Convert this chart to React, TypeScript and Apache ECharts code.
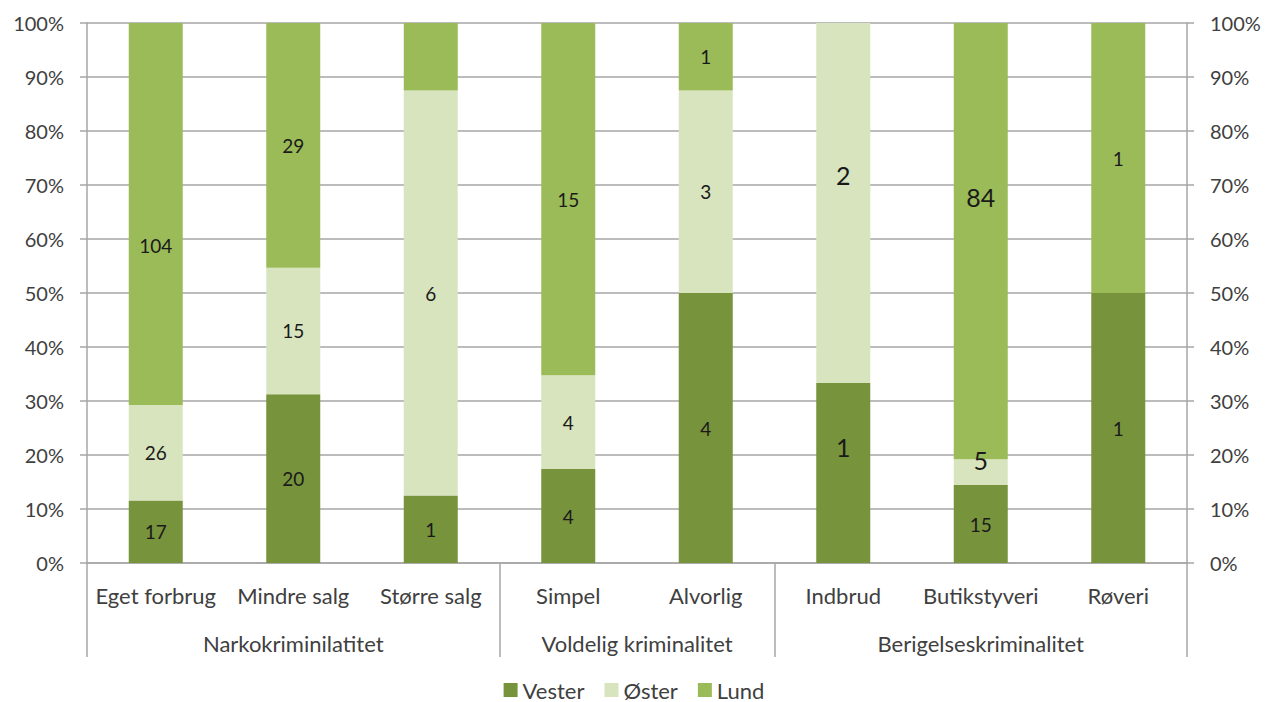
import React, { useEffect, useRef } from "react";
import * as echarts from "echarts";

const categories = [
  "Eget forbrug",
  "Mindre salg",
  "Større salg",
  "Simpel",
  "Alvorlig",
  "Indbrud",
  "Butikstyveri",
  "Røveri",
];
const groups = ["Narkokriminilatitet", "Voldelig kriminalitet", "Berigelseskriminalitet"];
const groupStarts = [0, 3, 5];
const seriesNames = ["Vester", "Øster", "Lund"];
const vester = [17, 20, 1, 4, 4, 1, 15, 1];
const oester = [26, 15, 6, 4, 3, 2, 5, 0];
const lund = [104, 29, 1, 15, 1, 0, 84, 1];

const colors = ["#77933C", "#D7E4BD", "#9BBB59"];
// hidden labels (series, index) and manual label tweaks
const hiddenLabels = [[2, 2]];
const bigLabels = [[0, 5], [1, 5], [1, 6], [2, 6]];
const labelShift: Record<string, number> = { "2-0": 31, "2-6": -44, "1-5": -28, "0-5": -26, "1-6": -12 };

const FONT = "Lato, 'Open Sans', sans-serif";
const TXT = "#404040";
const GRID = "#A6A6A6";

export default function App() {
  const ref = useRef<HTMLDivElement>(null);
  useEffect(() => {
    document.body.style.margin = "0";
    const chart = echarts.init(ref.current!, undefined, { renderer: "svg" });
    const raw = [vester, oester, lund];
    const totals = categories.map((_, i) => vester[i] + oester[i] + lund[i]);
    const series = raw.map((arr, s) => ({
      name: seriesNames[s],
      type: "bar",
      stack: "total",
      barWidth: 54,
      itemStyle: { color: colors[s] },
      label: {
        show: true,
        position: "inside",
        color: "#1a1a1a",
        fontFamily: FONT,
        fontSize: 19,
        formatter: (p: any) => String(raw[p.seriesIndex][p.dataIndex]),
      },
      data: arr.map((v, i) => {
        const hidden = v === 0 || hiddenLabels.some(([a, b]) => a === s && b === i);
        const big = bigLabels.some(([a, b]) => a === s && b === i);
        const shift = labelShift[`${s}-${i}`] || 0;
        return {
          value: (v / totals[i]) * 100,
          label: { show: !hidden, fontSize: big ? 25 : 19, offset: [0, shift] },
        };
      }),
    }));
    const groupCenters: Record<string, string> = {};
    groups.forEach((g, k) => {
      const start = groupStarts[k];
      const end = k + 1 < groupStarts.length ? groupStarts[k + 1] : categories.length;
      groupCenters[String((start + end) / 2)] = g;
    });
    const yAxisBase = {
      type: "value",
      min: 0,
      max: 100,
      interval: 10,
      axisLine: { show: true, lineStyle: { color: GRID, width: 1.5 } },
      axisTick: { show: true, length: 7, lineStyle: { color: GRID, width: 1.5 } },
      axisLabel: {
        formatter: "{value}%",
        color: TXT,
        fontFamily: FONT,
        fontSize: 20,
        margin: 23,
      },
    };
    chart.setOption({
      animation: false,
      textStyle: { fontFamily: FONT },
      grid: { left: 87, right: 81, top: 23, bottom: 139, containLabel: false, outerBoundsMode: "none" },
      legend: {
        data: seriesNames,
        top: 679,
        left: "center",
        padding: 0,
        icon: "rect",
        itemWidth: 14,
        itemHeight: 14,
        itemGap: 20,
        textStyle: { color: TXT, fontFamily: FONT, fontSize: 22, lineHeight: 22 },
      },
      xAxis: [
        {
          type: "category",
          data: categories,
          axisLine: { show: true, lineStyle: { color: GRID, width: 1.5 } },
          axisTick: {
            show: true,
            length: 94,
            interval: (idx: number) => groupStarts.includes(idx),
            lineStyle: { color: GRID, width: 1.5 },
          },
          axisLabel: { color: TXT, fontFamily: FONT, fontSize: 22, margin: 21, interval: 0 },
        },
        {
          type: "value",
          position: "bottom",
          min: 0,
          max: categories.length,
          interval: 0.5,
          axisLine: { show: false },
          axisTick: { show: false },
          splitLine: { show: false },
          axisLabel: {
            color: TXT,
            fontFamily: FONT,
            fontSize: 22,
            margin: 69,
            formatter: (v: number) => groupCenters[String(v)] || "",
          },
        },
      ],
      yAxis: [
        { ...yAxisBase, position: "left", splitLine: { show: true, lineStyle: { color: GRID, width: 1.5 } } },
        { ...yAxisBase, position: "right", splitLine: { show: false } },
      ],
      series,
    });
    return () => chart.dispose();
  }, []);
  return <div ref={ref} style={{ width: 1268, height: 702 }} />;
}
